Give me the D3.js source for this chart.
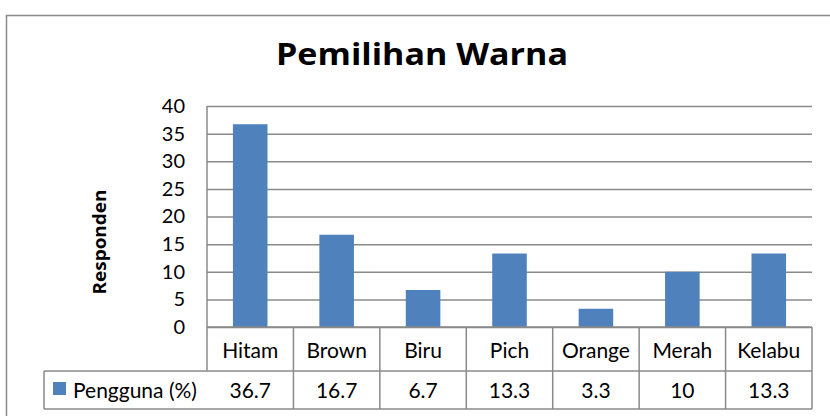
<!DOCTYPE html>
<html>
<head>
<meta charset="utf-8">
<script src="https://cdn.jsdelivr.net/npm/d3@7"></script>
<style>
  body { margin: 0; background: #fff; }
  svg { display: block; font-family: Lato, "Open Sans", sans-serif; }
</style>
</head>
<body>
<svg id="chart" width="830" height="416"></svg>
<script>
// data
var categories = ['Hitam', 'Brown', 'Biru', 'Pich', 'Orange', 'Merah', 'Kelabu']
var pengguna = [36.7, 16.7, 6.7, 13.3, 3.3, 10, 13.3]
var valueLabels = ['36.7', '16.7', '6.7', '13.3', '3.3', '10', '13.3']
var yTicks = [0, 5, 10, 15, 20, 25, 30, 35, 40]
var seriesName = 'Pengguna (%)'

var plotLeft = 207, plotRight = 812, plotTop = 106, plotBottom = 327
var row1Bottom = 371, row2Bottom = 409, tableLeft = 44
var lineColor = '#8a8a8a', barColor = '#4f81bd'

const svg = d3.select('#chart')

// outer chart frame (runs off the page on the right and bottom)
svg.append('rect')
    .attr('x', 6.5).attr('y', 15.5)
    .attr('width', 900).attr('height', 500)
    .attr('fill', 'none')
    .attr('stroke', lineColor)
    .attr('stroke-width', 1.5)

var y = d3.scaleLinear().domain([0, 40]).range([plotBottom, plotTop])

var x = d3.scaleBand()
    .domain(categories)
    .range([plotLeft, plotRight])
    .paddingInner(0.6)
    .paddingOuter(0.3)

// cells of the data table, no padding
var cell = d3.scaleBand().domain(categories).range([plotLeft, plotRight])

// gridlines + labels
const yAxis = d3.axisLeft(y)
    .tickValues(yTicks)
    .tickSize(-(plotRight - plotLeft))
    .tickPadding(22)

const gy = svg.append('g')
    .attr('transform', 'translate(' + plotLeft + ',0)')
    .call(yAxis)
gy.select('.domain').remove()
gy.selectAll('.tick line')
    .attr('stroke', lineColor)
    .attr('stroke-width', 1.5)
gy.selectAll('.tick text')
    .attr('fill', '#000')
    .style('font-size', '20px')
    .style('font-family', 'Lato, sans-serif')

// left axis line
svg.append('line')
    .attr('x1', plotLeft).attr('x2', plotLeft)
    .attr('y1', plotTop).attr('y2', row1Bottom)
    .attr('stroke', lineColor).attr('stroke-width', 1.5)

// bars
svg.selectAll('rect.bar')
    .data(pengguna)
    .enter()
    .append('rect')
    .attr('class', 'bar')
    .attr('x', (d, i) => x(categories[i]))
    .attr('width', x.bandwidth())
    .attr('y', d => y(d))
    .attr('height', d => y(0) - y(d))
    .attr('fill', barColor)

// table lines
const table = svg.append('g').attr('class', 'table')
function hline(x1, x2, yy) {
    table.append('line')
        .attr('x1', x1).attr('x2', x2).attr('y1', yy).attr('y2', yy)
        .attr('stroke', lineColor).attr('stroke-width', 1.5)
}
hline(plotLeft, plotRight, plotBottom)
hline(tableLeft, plotRight, row1Bottom)
hline(tableLeft, plotRight, row2Bottom)

table.append('line')
    .attr('x1', tableLeft).attr('x2', tableLeft)
    .attr('y1', row1Bottom).attr('y2', row2Bottom)
    .attr('stroke', lineColor).attr('stroke-width', 1.5)

table.selectAll('line.col')
    .data(categories)
    .enter()
    .append('line')
    .attr('class', 'col')
    .attr('x1', d => cell(d) + cell.bandwidth())
    .attr('x2', d => cell(d) + cell.bandwidth())
    .attr('y1', plotBottom).attr('y2', row2Bottom)
    .attr('stroke', lineColor).attr('stroke-width', 1.5)

table.selectAll('text.cat')
    .data(categories)
    .enter()
    .append('text')
    .attr('class', 'cat')
    .attr('x', d => cell(d) + cell.bandwidth() / 2)
    .attr('y', 358)
    .attr('text-anchor', 'middle')
    .style('font-size', '21px')
    .text(d => d)

table.selectAll('text.val')
    .data(valueLabels)
    .enter()
    .append('text')
    .attr('class', 'val')
    .attr('x', (d, i) => cell(categories[i]) + cell.bandwidth() / 2)
    .attr('y', 398)
    .attr('text-anchor', 'middle')
    .style('font-size', '21px')
    .text(d => d)

// legend key in the table
table.append('rect')
    .attr('x', 53).attr('y', 382)
    .attr('width', 13).attr('height', 13)
    .attr('fill', barColor)
table.append('text')
    .attr('x', 73).attr('y', 398)
    .style('font-size', '21px')
    .text(seriesName)

// title
svg.append('text')
    .attr('x', 422).attr('y', 65)
    .attr('text-anchor', 'middle')
    .attr('textLength', 292)
    .attr('lengthAdjust', 'spacingAndGlyphs')
    .style('font-family', '"Open Sans", sans-serif')
    .style('font-size', '31px')
    .style('font-weight', 'bold')
    .text('Pemilihan Warna')

// y axis title
svg.append('text')
    .attr('transform', 'translate(106,242) rotate(-90)')
    .attr('text-anchor', 'middle')
    .attr('textLength', 105)
    .attr('lengthAdjust', 'spacingAndGlyphs')
    .style('font-family', '"Open Sans", sans-serif')
    .style('font-size', '17px')
    .style('font-weight', 'bold')
    .text('Responden')
</script>
</body>
</html>
